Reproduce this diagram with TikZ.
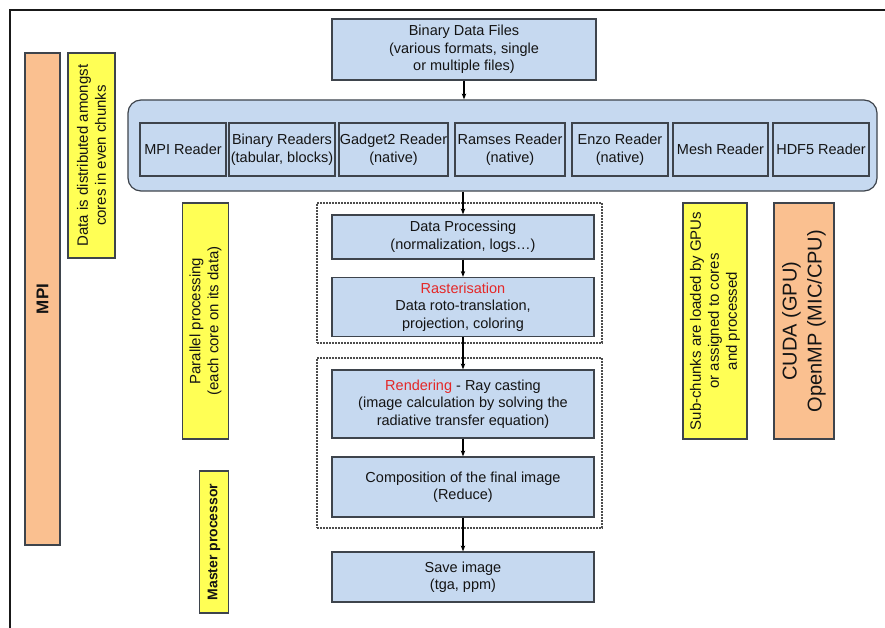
\documentclass[tikz,border=0pt]{standalone}
\usepackage{fontspec}
\setmainfont{Liberation Sans}
\usetikzlibrary{arrows.meta}
\definecolor{boxblue}{RGB}{198,217,240}
\definecolor{edgegray}{RGB}{62,68,76}
\definecolor{hiyellow}{RGB}{255,255,85}
\definecolor{peach}{RGB}{250,192,144}
\definecolor{redtext}{RGB}{228,40,40}
\definecolor{txt}{RGB}{20,20,20}
\begin{document}
\begin{tikzpicture}[x=1pt,y=-1pt,
  every node/.style={text=txt, inner sep=0pt, align=center},
  bluebox/.style={draw=edgegray, fill=boxblue, line width=1.2pt, font=\fontsize{14.5}{17.5}\selectfont},
  sidebox/.style={draw=edgegray, line width=1.2pt, rotate=90, font=\fontsize{15}{18}\selectfont},
  yellowbox/.style={sidebox, fill=hiyellow},
  peachbox/.style={sidebox, fill=peach},
  flow/.style={-{Stealth[length=6pt,width=4.5pt]}, line width=1.2pt, black},
  dotbox/.style={draw=black!70, dash pattern=on 1.6pt off 1.4pt, line width=1.3pt}]
\useasboundingbox[fill=white] (0,0) rectangle (885,628);
% frame
\draw[line width=2pt, black!90] (10,628) -- (10,10) -- (885,10);

% side boxes
\node[peachbox, minimum width=492pt, minimum height=35pt, font=\fontsize{17}{20}\selectfont\bfseries] (mpi) at (42.5,299) {MPI};
\node[yellowbox, minimum width=205pt, minimum height=47pt, text depth=0pt] (distr) at (91.5,155.5) {\raisebox{0pt}{}Data is distributed amongst\\cores in even chunks};
\node[yellowbox, minimum width=236pt, minimum height=46pt] (par) at (205.5,321) {Parallel processing\\(each core on its data)};
\node[yellowbox, minimum width=142pt, minimum height=29pt, font=\fontsize{14}{17}\selectfont\bfseries] (master) at (214,542) {Master processor};
\node[yellowbox, minimum width=236pt, minimum height=64pt] (sub) at (715,321) {Sub-chunks are loaded by GPUs\\or assigned to cores\\and processed};
\node[peachbox, minimum width=236pt, minimum height=60pt, font=\fontsize{20}{25}\selectfont] (cuda) at (804,321) {CUDA (GPU)\\OpenMP (MIC/CPU)};

% top
\node[bluebox, minimum width=264pt, minimum height=61pt] (bin) at (464,49.5) {Binary Data Files\\(various formats, single\\or multiple files)};
\node[draw=edgegray, fill=boxblue, line width=1.2pt, rounded corners=13pt, minimum width=749pt, minimum height=91pt] (cont) at (502.5,145.5) {};

% readers
\node[bluebox, minimum width=86pt, minimum height=53pt] (r1) at (183,149.5) {MPI Reader};
\node[bluebox, minimum width=106pt, minimum height=53pt] (r2) at (282,149.5) {Binary Readers\\(tabular, blocks)};
\node[bluebox, minimum width=109pt, minimum height=53pt] (r3) at (393.5,149.5) {Gadget2 Reader\\(native)};
\node[bluebox, minimum width=110pt, minimum height=53pt] (r4) at (510,149.5) {Ramses Reader\\(native)};
\node[bluebox, minimum width=96pt, minimum height=53pt] (r5) at (620,149.5) {Enzo Reader\\(native)};
\node[bluebox, minimum width=95pt, minimum height=53pt] (r6) at (720.5,149.5) {Mesh Reader};
\node[bluebox, minimum width=96pt, minimum height=53pt] (r7) at (821,149.5) {HDF5 Reader};

% dotted groups
\node[dotbox, minimum width=285pt, minimum height=140pt] (g1) at (459.5,273) {};
\node[dotbox, minimum width=285pt, minimum height=170pt] (g2) at (459.5,443) {};

% pipeline
\node[bluebox, minimum width=262pt, minimum height=44pt] (dp) at (463,237) {Data Processing\\(normalization, logs\ldots)};
\node[bluebox, minimum width=262pt, minimum height=59pt] (rast) at (463,307) {{\color{redtext}Rasterisation}\\Data roto-translation,\\projection, coloring};
\node[bluebox, minimum width=262pt, minimum height=68pt] (rend) at (463,404) {{\color{redtext}Rendering} - Ray casting\\(image calculation by solving the\\radiative transfer equation)};
\node[bluebox, minimum width=262pt, minimum height=60pt] (comp) at (463,487) {Composition of the final image\\(Reduce)};
\node[bluebox, minimum width=262pt, minimum height=50pt] (save) at (463,577) {Save image\\(tga, ppm)};

% arrows
\draw[flow] (bin.south) -- (bin.south |- cont.north);
\draw[flow] (cont.south -| dp.north) -- (dp.north);
\draw[flow] (dp) -- (rast);
\draw[flow] (rast) -- (rend);
\draw[flow] (rend) -- (comp);
\draw[flow] (comp) -- (save);
\end{tikzpicture}
\end{document}
